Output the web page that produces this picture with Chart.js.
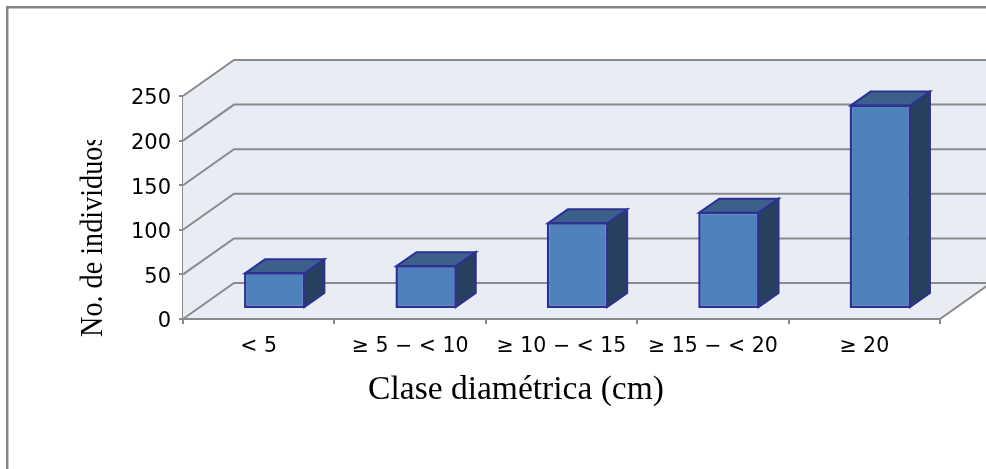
<!DOCTYPE html>
<html><head><meta charset="utf-8">
<style>html,body{margin:0;padding:0;background:#fff;overflow:hidden}#w{width:986px;height:469px}</style>
<script src="https://cdn.jsdelivr.net/npm/chart.js@4"></script></head>
<body><div id="w"><canvas id="c" width="986" height="469"></canvas></div>
<script>
const categories = ['< 5','≥ 5 − < 10','≥ 10 − < 15','≥ 15 − < 20','≥ 20'];
const individuos = [40, 48, 96, 108, 228];
const yTicks = [0, 50, 100, 150, 200, 250];
const yTitle = 'No. de individuos';
const xTitle = 'Clase diamétrica (cm)';

const depth = {dx:51, dy:-36};       // floor/wall depth
const barShift = {x:16, y:-11};      // bars stand this far back on the floor
const barDepth = {x:20, y:-14};
const GRID = '#8a8a8a', WALL = '#e8ecf4', EDGE = '#2e3192';

const scene = {
  id:'scene',
  beforeDraw(chart){
    const {ctx} = chart;
    ctx.save();
    ctx.strokeStyle = '#868686'; ctx.lineWidth = 2.5;
    ctx.beginPath(); ctx.moveTo(7.2,469); ctx.lineTo(7.2,7.2); ctx.lineTo(986,7.2); ctx.stroke();
    ctx.restore();
  },
  beforeDatasetsDraw(chart){
    const {ctx, chartArea:a, scales:{y}} = chart;
    const {dx,dy} = depth;
    const y0 = y.getPixelForValue(0), yT = y.getPixelForValue(250);
    ctx.save();
    ctx.fillStyle = WALL;
    ctx.fillRect(a.left+dx, yT+dy, a.right-a.left, y0-yT);
    ctx.beginPath();
    ctx.moveTo(a.left,yT); ctx.lineTo(a.left+dx,yT+dy); ctx.lineTo(a.left+dx,y0+dy); ctx.lineTo(a.left,y0); ctx.closePath(); ctx.fill();
    ctx.beginPath();
    ctx.moveTo(a.left,y0); ctx.lineTo(a.right,y0); ctx.lineTo(a.right+dx,y0+dy); ctx.lineTo(a.left+dx,y0+dy); ctx.closePath(); ctx.fill();
    ctx.strokeStyle = GRID; ctx.lineWidth = 2;
    yTicks.forEach(v=>{
      const p = y.getPixelForValue(v);
      ctx.beginPath(); ctx.moveTo(a.left,p); ctx.lineTo(a.left+dx,p+dy); ctx.lineTo(a.right+dx,p+dy); ctx.stroke();
    });
    ctx.beginPath(); ctx.moveTo(a.left-4,y0); ctx.lineTo(a.right,y0); ctx.moveTo(a.right,y0); ctx.lineTo(a.right+dx,y0+dy); ctx.stroke();
    const meta = chart.getDatasetMeta(0);
    meta.data.forEach(el=>{
      const l = el.x-el.width/2+barShift.x, r = el.x+el.width/2+barShift.x;
      const t = el.y+barShift.y, b = el.base+barShift.y;
      const ox = barDepth.x, oy = barDepth.y;
      ctx.lineWidth = 2; ctx.strokeStyle = EDGE; ctx.lineJoin='miter';
      ctx.fillStyle = '#27405f';
      ctx.beginPath(); ctx.moveTo(r-1,t+1); ctx.lineTo(r+ox-1,t+oy+1); ctx.lineTo(r+ox-1,b+oy-1); ctx.lineTo(r-1,b-1); ctx.closePath(); ctx.fill(); ctx.stroke();
      ctx.fillStyle = '#3c5f8c';
      ctx.beginPath(); ctx.moveTo(l+1,t+1); ctx.lineTo(l+ox+1,t+oy+1); ctx.lineTo(r+ox-1,t+oy+1); ctx.lineTo(r-1,t+1); ctx.closePath(); ctx.fill(); ctx.stroke();
    });
    ctx.restore();
  },
  beforeDatasetDraw(chart){
    chart.ctx.save();
    chart.ctx.translate(barShift.x, barShift.y);
  },
  afterDatasetDraw(chart){ chart.ctx.restore(); },
  afterDraw(chart){
    const {ctx} = chart;
    ctx.save();
    ctx.fillStyle = '#000';
    ctx.font = '33.5px "Liberation Serif"';
    ctx.textAlign = 'center'; ctx.textBaseline = 'alphabetic';
    ctx.fillText(xTitle, 516, 399);
    ctx.beginPath(); ctx.rect(60,140,60,220); ctx.clip();
    ctx.translate(101.5,236.3); ctx.rotate(-Math.PI/2); ctx.scale(0.91,1);
    ctx.font = '31px "Liberation Serif"';
    ctx.fillText(yTitle, 0, 0);
    ctx.restore();
  }
};

new Chart(document.getElementById('c'),{
  type:'bar',
  data:{labels:categories,datasets:[{data:individuos,backgroundColor:'#4f81bd',borderColor:EDGE,borderWidth:2.5,borderSkipped:false,
    categoryPercentage:1,barPercentage:0.405,clip:false}]},
  options:{
    responsive:false,animation:false,
    layout:{padding:{top:96,right:46,left:0,bottom:0}},
    plugins:{legend:{display:false},tooltip:{enabled:false},title:{display:false}},
    scales:{
      x:{
        afterFit(s){s.height=150},
        border:{color:GRID,width:2},
        grid:{offset:true,drawOnChartArea:false,color:GRID,lineWidth:2,tickLength:5},
        ticks:{color:'#000',font:{family:'"DejaVu Sans"',size:20.5},padding:10,maxRotation:0,autoSkip:false}
      },
      y:{
        min:0,max:250,
        afterFit(s){s.width=183},
        afterBuildTicks(s){s.ticks=yTicks.map(v=>({value:v}))},
        border:{color:GRID,width:2},
        grid:{drawOnChartArea:false,color:GRID,lineWidth:c=>(c.tick&&c.tick.value===0)?0:2,tickLength:4},
        ticks:{color:'#000',font:{family:'"DejaVu Sans"',size:21},padding:8,labelOffset:3}
      }
    }
  },
  plugins:[scene]
});
</script></body></html>
